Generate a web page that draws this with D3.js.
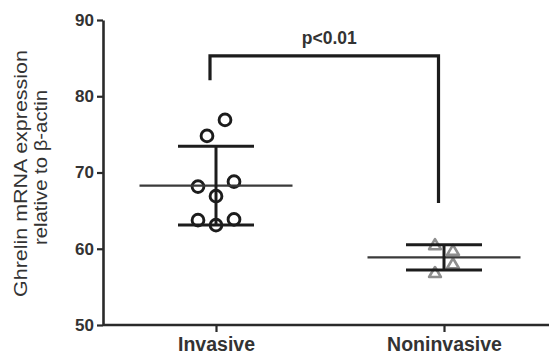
<!DOCTYPE html>
<html>
<head>
<meta charset="utf-8">
<script src="https://cdn.jsdelivr.net/npm/d3@7"></script>
<style>
  html, body { margin: 0; padding: 0; background: #fff; }
  svg { display: block; }
  text { font-family: "Liberation Sans", Arial, sans-serif; }
</style>
</head>
<body>
<svg id="chart" width="549" height="354"></svg>
<script>
// ---- data ----
const categories = ["Invasive", "Noninvasive"];
const invasiveValues = [76.9, 74.8, 68.8, 68.15, 66.9, 63.85, 63.75, 63.1];
const noninvasiveValues = [60.6, 59.85, 58.1, 56.95];
const yTickValues = [50, 60, 70, 80, 90];
const yTitleLines = ["Ghrelin mRNA expression", "relative to \u03b2-actin"];
const pValueLabel = "p<0.01";
// bracket levels (axis units): left leg end, top, right leg end
const bracketLevels = [82.1, 85.3, 66.0];

// ---- layout ----
const svg = d3.select("#chart");
const y = d3.scaleLinear().domain([50, 90]).range([325, 20]);
const x = d3.scalePoint().domain(categories).range([216, 444]);
const axisLeftX = 103, axisRightX = 549;
const textColor = "#333";

// points first (error bars are drawn over them)
function swarm(values, cx) {
  const step = 18, rowGap = 17;
  const pts = values.map(v => ({ v, py: y(v) })).sort((a, b) => a.v - b.v);
  const rows = [];
  pts.forEach(p => {
    const last = rows[rows.length - 1];
    if (last && last[0].py - p.py < rowGap) last.push(p); else rows.push([p]);
  });
  let flip = false;
  rows.forEach(row => {
    const n = row.length;
    let offs;
    if (n % 2) {
      offs = row.map((_, i) => i === 0 ? 0 : (i % 2 ? -Math.ceil(i / 2) : Math.ceil(i / 2)));
    } else {
      offs = row.map((_, i) => (i % 2 ? 1 : -1) * (Math.floor(i / 2) + 0.5));
      if (flip) offs = offs.map(o => -o);
      flip = !flip;
    }
    row.forEach((p, i) => { p.px = cx + offs[i] * step; });
  });
  return pts;
}

const invPts = swarm(invasiveValues, x("Invasive"));
const nonPts = swarm(noninvasiveValues, x("Noninvasive"));

svg.append("g").selectAll("circle").data(invPts).join("circle")
  .attr("cx", d => d.px).attr("cy", d => d.py).attr("r", 5.9)
  .attr("fill", "none").attr("stroke", "#1c1c1c").attr("stroke-width", 2.9);

const triH = 5, triW = 5.9;
const triPath = `M0,${-triH}L${triW},${triH}L${-triW},${triH}Z`;
svg.append("g").selectAll("path").data(nonPts).join("path")
  .attr("d", triPath)
  .attr("transform", d => `translate(${d.px},${d.py})`)
  .attr("fill", "none").attr("stroke", "#8e8e8e").attr("stroke-width", 2.6)
  .attr("stroke-linejoin", "round");

// mean and SD
const groups = [
  { cat: "Invasive", vals: invasiveValues },
  { cat: "Noninvasive", vals: noninvasiveValues }
];
const eb = svg.append("g");
groups.forEach(g => {
  const cx = x(g.cat);
  const m = d3.mean(g.vals), sd = d3.deviation(g.vals);
  eb.append("line").attr("x1", cx - 76.5).attr("x2", cx + 76.5)
    .attr("y1", y(m)).attr("y2", y(m))
    .attr("stroke", "#3a3a3a").attr("stroke-width", 2.2);
  eb.append("line").attr("x1", cx).attr("x2", cx)
    .attr("y1", y(m + sd)).attr("y2", y(m - sd))
    .attr("stroke", "#1c1c1c").attr("stroke-width", 3);
  [m + sd, m - sd].forEach(v => {
    eb.append("line").attr("x1", cx - 38).attr("x2", cx + 38)
      .attr("y1", y(v)).attr("y2", y(v))
      .attr("stroke", "#1c1c1c").attr("stroke-width", 3);
  });
});

// axes
const yAxis = svg.append("g").attr("transform", `translate(${axisLeftX},0)`)
  .call(d3.axisLeft(y).tickValues(yTickValues).tickSize(6).tickSizeOuter(0).tickPadding(3));
yAxis.select(".domain").attr("stroke", "#2a2a2a").attr("stroke-width", 2.6);
yAxis.selectAll(".tick line").attr("stroke", "#2a2a2a").attr("stroke-width", 2.2);
yAxis.selectAll(".tick text").attr("fill", textColor)
  .style("font-size", "17px").style("font-weight", "bold")
  .style("font-family", "'Liberation Sans', Arial, sans-serif");

const xAxis = svg.append("g").attr("transform", `translate(0,${y(50)})`)
  .call(d3.axisBottom(x).tickSize(7).tickSizeOuter(0).tickPadding(5));
xAxis.select(".domain").attr("d", `M${axisLeftX},0H${axisRightX}`)
  .attr("stroke", "#2a2a2a").attr("stroke-width", 2.6);
xAxis.selectAll(".tick line").attr("stroke", "#2a2a2a").attr("stroke-width", 2.2);
xAxis.selectAll(".tick text").attr("fill", textColor)
  .attr("dy", "0.71em")
  .style("font-size", "19.5px").style("font-weight", "bold")
  .style("font-family", "'Liberation Sans', Arial, sans-serif");

// y title (two rotated lines)
const titleLens = [247, 155];
const titleX = [27, 47];
const titleCY = [173.5, 167.5];
yTitleLines.forEach((t, i) => {
  svg.append("text")
    .attr("transform", `translate(${titleX[i]},${titleCY[i]}) rotate(-90)`)
    .attr("text-anchor", "middle")
    .attr("textLength", titleLens[i]).attr("lengthAdjust", "spacingAndGlyphs")
    .attr("fill", "#333")
    .style("font-size", "18.5px")
    .text(t);
});

// significance bracket
const bx1 = x("Invasive") - 6, bx2 = x("Noninvasive") - 5.5;
svg.append("path")
  .attr("d", `M${bx1},${y(bracketLevels[0])}V${y(bracketLevels[1])}H${bx2}V${y(bracketLevels[2])}`)
  .attr("fill", "none").attr("stroke", "#1c1c1c").attr("stroke-width", 3.2);
svg.append("text")
  .attr("x", (bx1 + bx2) / 2 + 5).attr("y", 43.5)
  .attr("text-anchor", "middle").attr("fill", textColor)
  .style("font-size", "17.5px").style("font-weight", "bold")
  .text(pValueLabel);
</script>
</body>
</html>
